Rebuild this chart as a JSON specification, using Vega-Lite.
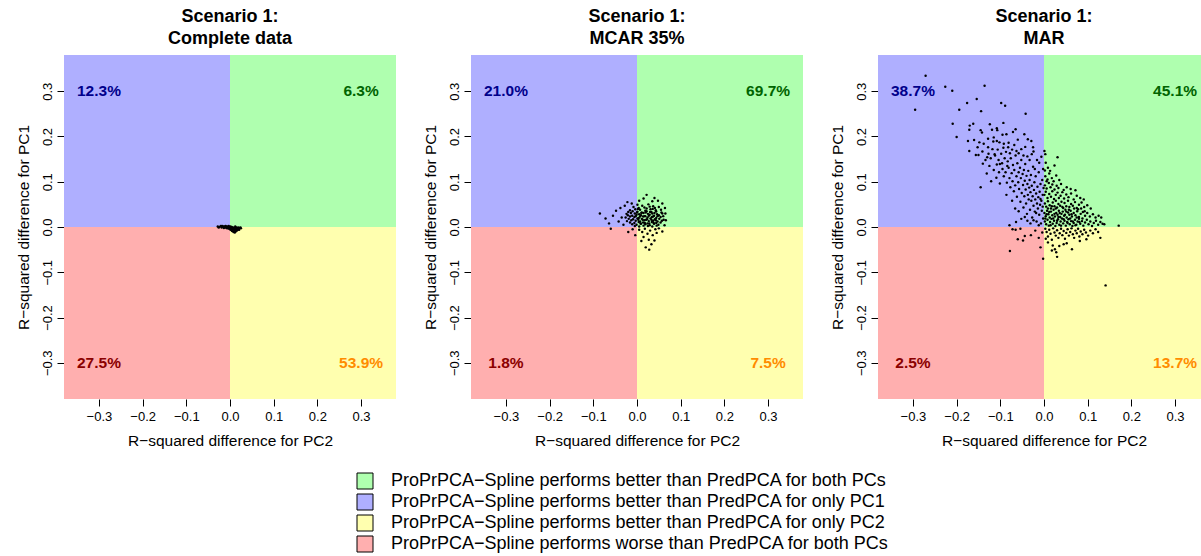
{
  "$schema": "https://vega.github.io/schema/vega-lite/v6.json",
  "background": "white",
  "padding": {"left": 15, "top": 8, "right": 0, "bottom": 0},
  "bounds": "flush",
  "spacing": 75,
  "config": {
    "view": {"stroke": null},
    "font": "Liberation Sans",
    "title": {"fontSize": 18, "fontWeight": "bold", "font": "Liberation Sans", "lineHeight": 22, "offset": 7, "anchor": "middle", "color": "black"},
    "axis": {"domain": false, "grid": false, "tickColor": "black", "tickSize": 7, "labelColor": "black", "titleColor": "black", "labelFont": "Liberation Sans", "titleFont": "Liberation Sans", "labelFontSize": 13, "titleFontSize": 15.5, "titleFontWeight": "normal", "values": [-0.3, -0.2, -0.1, 0, 0.1, 0.2, 0.3], "format": ".1f"},
    "axisX": {"labelPadding": 4, "titlePadding": 10},
    "axisY": {"labelAngle": -90, "labelAlign": "center", "labelBaseline": "bottom", "labelPadding": 3, "titlePadding": 10},
    "legend": {"orient": "none", "legendX": 292, "legendY": 417, "direction": "vertical", "labelFontSize": 18, "labelFont": "Liberation Sans", "labelColor": "black", "labelLimit": 0, "symbolType": "square", "symbolSize": 256, "symbolStrokeColor": "black", "symbolStrokeWidth": 1, "symbolOpacity": 1, "rowPadding": 1, "labelOffset": 17, "padding": 0}
  },
  "datasets": {
    "quads": [
      {"quadrant": "ProPrPCA−Spline performs better than PredPCA for both PCs", "x": 0, "x2": 0.38, "y": 0, "y2": 0.38},
      {"quadrant": "ProPrPCA−Spline performs better than PredPCA for only PC1", "x": -0.38, "x2": 0, "y": 0, "y2": 0.38},
      {"quadrant": "ProPrPCA−Spline performs better than PredPCA for only PC2", "x": 0, "x2": 0.38, "y": -0.38, "y2": 0},
      {"quadrant": "ProPrPCA−Spline performs worse than PredPCA for both PCs", "x": -0.38, "x2": 0, "y": -0.38, "y2": 0}
    ],
    "labels": [
      {"panel": "Complete data", "quadrant": "both", "label": "6.3%", "x": 0.3, "y": 0.3},
      {"panel": "Complete data", "quadrant": "pc1", "label": "12.3%", "x": -0.3, "y": 0.3},
      {"panel": "Complete data", "quadrant": "pc2", "label": "53.9%", "x": 0.3, "y": -0.3},
      {"panel": "Complete data", "quadrant": "worse", "label": "27.5%", "x": -0.3, "y": -0.3},
      {"panel": "MCAR 35%", "quadrant": "both", "label": "69.7%", "x": 0.3, "y": 0.3},
      {"panel": "MCAR 35%", "quadrant": "pc1", "label": "21.0%", "x": -0.3, "y": 0.3},
      {"panel": "MCAR 35%", "quadrant": "pc2", "label": "7.5%", "x": 0.3, "y": -0.3},
      {"panel": "MCAR 35%", "quadrant": "worse", "label": "1.8%", "x": -0.3, "y": -0.3},
      {"panel": "MAR", "quadrant": "both", "label": "45.1%", "x": 0.3, "y": 0.3},
      {"panel": "MAR", "quadrant": "pc1", "label": "38.7%", "x": -0.3, "y": 0.3},
      {"panel": "MAR", "quadrant": "pc2", "label": "13.7%", "x": 0.3, "y": -0.3},
      {"panel": "MAR", "quadrant": "worse", "label": "2.5%", "x": -0.3, "y": -0.3}
    ],
    "complete": [
      {"x":-0.028,"y":0.001},{"x":-0.024,"y":0.0},{"x":-0.021,"y":0.002},{"x":-0.019,"y":-0.001},{"x":-0.016,"y":0.001},{"x":-0.014,"y":-0.002},{"x":-0.012,"y":0.0},{"x":-0.01,"y":0.002},{"x":-0.009,"y":-0.001},{"x":-0.007,"y":0.001},
      {"x":-0.006,"y":-0.003},{"x":-0.005,"y":0.0},{"x":-0.004,"y":-0.002},{"x":-0.003,"y":0.002},{"x":-0.002,"y":-0.001},{"x":-0.001,"y":0.0},{"x":0.0,"y":-0.003},{"x":0.001,"y":0.001},{"x":0.002,"y":-0.002},{"x":0.003,"y":-0.005},
      {"x":0.004,"y":0.0},{"x":0.005,"y":-0.003},{"x":0.006,"y":-0.007},{"x":0.007,"y":-0.001},{"x":0.008,"y":-0.004},{"x":0.009,"y":-0.009},{"x":0.01,"y":-0.002},{"x":0.011,"y":-0.006},{"x":0.012,"y":-0.003},{"x":0.013,"y":-0.01},
      {"x":0.014,"y":-0.005},{"x":0.015,"y":-0.001},{"x":0.016,"y":-0.008},{"x":0.017,"y":-0.003},{"x":0.018,"y":-0.006},{"x":0.019,"y":-0.001},{"x":0.02,"y":-0.004},{"x":0.022,"y":-0.002},{"x":0.024,"y":-0.001},{"x":0.025,"y":-0.003},
      {"x":0.011,"y":-0.012},{"x":0.008,"y":-0.011},{"x":0.005,"y":-0.009},{"x":0.013,"y":-0.007},{"x":0.003,"y":-0.003},{"x":0.001,"y":-0.006},{"x":-0.002,"y":-0.004},{"x":0.006,"y":-0.002},{"x":0.009,"y":-0.005},{"x":0.012,"y":0.001},
      {"x":0.016,"y":-0.004},{"x":-0.008,"y":-0.002},{"x":-0.013,"y":0.001},{"x":0.021,"y":-0.006},{"x":0.004,"y":-0.008},{"x":0.007,"y":-0.005},{"x":0.01,"y":-0.008},{"x":0.014,"y":-0.002},{"x":-0.018,"y":0.002},{"x":-0.026,"y":-0.001}
    ],
    "mcar": [
      {"x":0.001,"y":0.049},{"x":0.012,"y":0.047},{"x":0.026,"y":0.05},{"x":0.037,"y":0.046},
      {"x":-0.008,"y":0.044},{"x":0.004,"y":0.042},{"x":0.017,"y":0.043},{"x":0.029,"y":0.045},{"x":0.041,"y":0.042},{"x":0.05,"y":0.044},
      {"x":-0.016,"y":0.037},{"x":-0.004,"y":0.039},{"x":0.007,"y":0.038},{"x":0.019,"y":0.036},{"x":0.031,"y":0.039},{"x":0.043,"y":0.037},{"x":0.055,"y":0.038},
      {"x":-0.02,"y":0.033},{"x":-0.01,"y":0.035},{"x":0.001,"y":0.034},{"x":0.011,"y":0.032},{"x":0.022,"y":0.035},{"x":0.033,"y":0.033},{"x":0.044,"y":0.034},{"x":0.056,"y":0.032},
      {"x":-0.024,"y":0.029},{"x":-0.014,"y":0.031},{"x":-0.005,"y":0.03},{"x":0.005,"y":0.028},{"x":0.015,"y":0.031},{"x":0.025,"y":0.029},{"x":0.035,"y":0.03},{"x":0.046,"y":0.028},{"x":0.058,"y":0.03},
      {"x":-0.021,"y":0.026},{"x":-0.011,"y":0.025},{"x":-0.001,"y":0.027},{"x":0.009,"y":0.026},{"x":0.019,"y":0.024},{"x":0.029,"y":0.027},{"x":0.039,"y":0.025},{"x":0.05,"y":0.026},{"x":0.06,"y":0.024},
      {"x":-0.026,"y":0.021},{"x":-0.016,"y":0.023},{"x":-0.006,"y":0.022},{"x":0.004,"y":0.02},{"x":0.014,"y":0.023},{"x":0.024,"y":0.021},{"x":0.034,"y":0.022},{"x":0.044,"y":0.02},{"x":0.054,"y":0.022},
      {"x":-0.019,"y":0.018},{"x":-0.009,"y":0.017},{"x":0.001,"y":0.019},{"x":0.011,"y":0.018},{"x":0.021,"y":0.016},{"x":0.031,"y":0.019},{"x":0.041,"y":0.017},{"x":0.051,"y":0.018},{"x":0.061,"y":0.016},
      {"x":-0.023,"y":0.013},{"x":-0.013,"y":0.015},{"x":-0.003,"y":0.014},{"x":0.007,"y":0.012},{"x":0.017,"y":0.015},{"x":0.027,"y":0.013},{"x":0.037,"y":0.014},{"x":0.047,"y":0.012},{"x":0.057,"y":0.014},
      {"x":-0.016,"y":0.01},{"x":-0.006,"y":0.009},{"x":0.004,"y":0.011},{"x":0.014,"y":0.01},{"x":0.024,"y":0.008},{"x":0.034,"y":0.011},{"x":0.044,"y":0.009},{"x":0.054,"y":0.01},
      {"x":-0.011,"y":0.006},{"x":-0.001,"y":0.005},{"x":0.009,"y":0.007},{"x":0.019,"y":0.006},{"x":0.029,"y":0.004},{"x":0.039,"y":0.007},{"x":0.049,"y":0.005},
      {"x":-0.005,"y":0.002},{"x":0.005,"y":0.001},{"x":0.015,"y":0.003},{"x":0.025,"y":0.002},{"x":0.035,"y":0.001},{"x":0.045,"y":0.003},
      {"x":0.002,"y":0.04},{"x":0.022,"y":0.041},{"x":0.036,"y":0.04},{"x":0.0,"y":0.032},{"x":0.01,"y":0.031},{"x":0.02,"y":0.032},{"x":0.03,"y":0.033},{"x":0.04,"y":0.031},
      {"x":-0.003,"y":0.024},{"x":0.007,"y":0.023},{"x":0.017,"y":0.024},{"x":0.027,"y":0.025},{"x":0.037,"y":0.023},{"x":0.047,"y":0.024},{"x":0.003,"y":0.016},{"x":0.013,"y":0.016},
      {"x":0.023,"y":0.017},{"x":0.033,"y":0.016},{"x":0.043,"y":0.015},{"x":0.008,"y":0.008},{"x":0.018,"y":0.009},{"x":0.028,"y":0.008},{"x":0.038,"y":0.009},
      {"x":-0.085,"y":0.03},{"x":-0.072,"y":0.019},{"x":-0.064,"y":0.008},{"x":-0.055,"y":0.025},{"x":-0.048,"y":0.036},{"x":-0.042,"y":0.012},{"x":-0.038,"y":0.042},{"x":-0.035,"y":0.021},
      {"x":-0.031,"y":0.005},{"x":-0.028,"y":0.047},{"x":-0.022,"y":0.055},{"x":-0.012,"y":0.052},{"x":0.005,"y":0.058},{"x":0.015,"y":0.063},{"x":0.022,"y":0.071},{"x":0.04,"y":0.064},
      {"x":0.035,"y":0.057},{"x":0.048,"y":0.058},{"x":0.058,"y":0.052},{"x":0.064,"y":0.042},{"x":0.065,"y":0.03},{"x":0.066,"y":0.015},{"x":0.063,"y":0.004},
      {"x":0.005,"y":-0.006},{"x":0.012,"y":-0.011},{"x":0.018,"y":-0.004},{"x":0.024,"y":-0.015},{"x":0.03,"y":-0.008},{"x":0.036,"y":-0.018},{"x":0.042,"y":-0.005},{"x":0.05,"y":-0.003},
      {"x":0.015,"y":-0.022},{"x":0.027,"y":-0.028},{"x":0.033,"y":-0.038},{"x":0.04,"y":-0.03},{"x":0.02,"y":-0.045},{"x":0.028,"y":-0.05},{"x":0.045,"y":-0.013},{"x":0.058,"y":-0.01},{"x":0.01,"y":-0.031},
      {"x":-0.01,"y":-0.005},{"x":-0.02,"y":-0.011},{"x":-0.06,"y":-0.004},{"x":-0.004,"y":-0.018}
    ],
    "mar": [
      {"x":-0.271,"y":0.334},{"x":-0.226,"y":0.31},{"x":-0.21,"y":0.301},{"x":-0.136,"y":0.312},{"x":-0.295,"y":0.259},{"x":-0.176,"y":0.274},{"x":-0.154,"y":0.283},{"x":-0.194,"y":0.259},
      {"x":-0.144,"y":0.256},{"x":-0.098,"y":0.274},{"x":-0.089,"y":0.268},{"x":-0.209,"y":0.228},{"x":-0.2,"y":0.199},{"x":-0.17,"y":0.224},{"x":-0.162,"y":0.228},{"x":-0.171,"y":0.215},
      {"x":-0.145,"y":0.214},{"x":-0.142,"y":0.209},{"x":-0.124,"y":0.227},{"x":-0.119,"y":0.215},{"x":-0.108,"y":0.218},{"x":-0.107,"y":0.214},{"x":-0.093,"y":0.23},{"x":-0.174,"y":0.19},
      {"x":-0.148,"y":0.187},{"x":-0.138,"y":0.184},{"x":-0.116,"y":0.189},{"x":-0.108,"y":0.19},{"x":-0.102,"y":0.187},{"x":-0.095,"y":0.204},{"x":-0.092,"y":0.184},{"x":-0.081,"y":0.186},
      {"x":-0.171,"y":0.168},{"x":-0.156,"y":0.159},{"x":-0.15,"y":0.159},{"x":-0.141,"y":0.167},{"x":-0.127,"y":0.162},{"x":-0.113,"y":0.161},{"x":-0.13,"y":0.154},{"x":-0.122,"y":0.152},
      {"x":-0.134,"y":0.148},{"x":-0.104,"y":0.148},{"x":-0.101,"y":0.139},{"x":-0.108,"y":0.138},{"x":-0.084,"y":0.135},{"x":-0.042,"y":0.25},{"x":-0.065,"y":0.216},{"x":-0.037,"y":0.194},
      {"x":-0.025,"y":0.176},{"x":-0.024,"y":0.167},
      {"x":-0.095,"y":0.128},{"x":-0.092,"y":0.112},{"x":-0.088,"y":0.121},{"x":-0.085,"y":0.098},{"x":-0.083,"y":0.145},{"x":-0.081,"y":0.131},{"x":-0.079,"y":0.108},{"x":-0.077,"y":0.088},
      {"x":-0.076,"y":0.152},{"x":-0.074,"y":0.119},{"x":-0.072,"y":0.101},{"x":-0.071,"y":0.137},{"x":-0.069,"y":0.079},{"x":-0.068,"y":0.126},{"x":-0.066,"y":0.092},{"x":-0.065,"y":0.158},
      {"x":-0.063,"y":0.112},{"x":-0.062,"y":0.067},{"x":-0.061,"y":0.141},{"x":-0.059,"y":0.099},{"x":-0.058,"y":0.121},{"x":-0.057,"y":0.084},{"x":-0.055,"y":0.131},{"x":-0.054,"y":0.056},
      {"x":-0.053,"y":0.108},{"x":-0.052,"y":0.148},{"x":-0.051,"y":0.075},{"x":-0.049,"y":0.117},{"x":-0.048,"y":0.093},{"x":-0.047,"y":0.043},{"x":-0.046,"y":0.126},{"x":-0.045,"y":0.068},
      {"x":-0.044,"y":0.102},{"x":-0.043,"y":0.139},{"x":-0.042,"y":0.083},{"x":-0.041,"y":0.052},{"x":-0.04,"y":0.113},{"x":-0.039,"y":0.029},{"x":-0.038,"y":0.095},{"x":-0.037,"y":0.071},
      {"x":-0.036,"y":0.124},{"x":-0.035,"y":0.061},{"x":-0.034,"y":0.087},{"x":-0.033,"y":0.104},{"x":-0.032,"y":0.038},{"x":-0.031,"y":0.077},{"x":-0.03,"y":0.115},{"x":-0.029,"y":0.058},
      {"x":-0.028,"y":0.091},{"x":-0.027,"y":0.021},{"x":-0.026,"y":0.068},{"x":-0.025,"y":0.133},{"x":-0.024,"y":0.047},{"x":-0.023,"y":0.082},{"x":-0.022,"y":0.099},{"x":-0.021,"y":0.034},
      {"x":-0.02,"y":0.061},{"x":-0.019,"y":0.112},{"x":-0.018,"y":0.074},{"x":-0.017,"y":0.012},{"x":-0.016,"y":0.052},{"x":-0.015,"y":0.089},{"x":-0.014,"y":0.041},{"x":-0.013,"y":0.066},
      {"x":-0.012,"y":0.121},{"x":-0.011,"y":0.027},{"x":-0.01,"y":0.078},{"x":-0.009,"y":0.049},{"x":-0.008,"y":0.095},{"x":-0.007,"y":0.008},{"x":-0.006,"y":0.058},{"x":-0.005,"y":0.036},
      {"x":-0.004,"y":0.104},{"x":-0.003,"y":0.071},{"x":-0.002,"y":0.019},{"x":-0.001,"y":0.086},{"x":-0.003,"y":0.045},{"x":-0.008,"y":0.062},{"x":-0.012,"y":0.004},{"x":-0.018,"y":0.031},
      {"x":-0.024,"y":0.015},{"x":-0.031,"y":0.008},{"x":-0.038,"y":0.014},{"x":-0.044,"y":0.022},{"x":-0.052,"y":0.018},{"x":-0.058,"y":0.035},{"x":-0.066,"y":0.041},{"x":-0.073,"y":0.058},
      {"x":-0.079,"y":0.004},{"x":-0.086,"y":0.071},{"x":-0.064,"y":0.011},{"x":-0.011,"y":0.142},{"x":-0.006,"y":0.155},{"x":-0.002,"y":0.128},{"x":-0.016,"y":0.148},{"x":-0.021,"y":0.128},
      {"x":-0.131,"y":0.118},{"x":-0.128,"y":0.176},{"x":-0.125,"y":0.135},{"x":-0.121,"y":0.101},{"x":-0.118,"y":0.172},{"x":-0.115,"y":0.126},{"x":-0.112,"y":0.158},{"x":-0.109,"y":0.109},
      {"x":-0.106,"y":0.171},{"x":-0.103,"y":0.121},{"x":-0.101,"y":0.096},{"x":-0.098,"y":0.162},{"x":-0.096,"y":0.141},{"x":-0.093,"y":0.175},{"x":-0.09,"y":0.152},{"x":-0.087,"y":0.166},
      {"x":-0.082,"y":0.176},{"x":-0.078,"y":0.163},{"x":-0.073,"y":0.171},{"x":-0.068,"y":0.181},{"x":-0.063,"y":0.168},{"x":-0.058,"y":0.163},{"x":-0.052,"y":0.172},{"x":-0.047,"y":0.158},
      {"x":-0.043,"y":0.177},{"x":-0.038,"y":0.156},{"x":-0.033,"y":0.148},{"x":-0.028,"y":0.161},{"x":-0.06,"y":0.193},{"x":-0.045,"y":0.205},{"x":-0.029,"y":0.19},{"x":-0.115,"y":0.198},
      {"x":-0.14,"y":0.14},{"x":-0.152,"y":0.176},{"x":-0.16,"y":0.192},{"x":-0.128,"y":0.195},{"x":-0.086,"y":0.205},{"x":-0.071,"y":0.21},{"x":-0.145,"y":0.088},
      {"x":0.001,"y":0.168},{"x":0.003,"y":0.161},{"x":0.031,"y":0.154},
      {"x":0.004,"y":0.142},{"x":0.009,"y":0.131},{"x":0.014,"y":0.124},{"x":0.002,"y":0.125},{"x":0.024,"y":0.136},
      {"x":0.003,"y":0.112},{"x":0.008,"y":0.105},{"x":0.012,"y":0.118},{"x":0.018,"y":0.108},{"x":0.022,"y":0.101},{"x":0.028,"y":0.114},{"x":0.006,"y":0.101},{"x":0.035,"y":0.104},
      {"x":0.002,"y":0.092},{"x":0.006,"y":0.085},{"x":0.011,"y":0.097},{"x":0.015,"y":0.088},{"x":0.019,"y":0.094},{"x":0.024,"y":0.083},{"x":0.029,"y":0.091},{"x":0.033,"y":0.086},
      {"x":0.039,"y":0.095},{"x":0.045,"y":0.082},{"x":0.052,"y":0.088},{"x":0.061,"y":0.084},{"x":0.072,"y":0.081},
      {"x":0.001,"y":0.071},{"x":0.004,"y":0.078},{"x":0.008,"y":0.064},{"x":0.012,"y":0.073},{"x":0.016,"y":0.067},{"x":0.019,"y":0.079},{"x":0.023,"y":0.062},{"x":0.027,"y":0.071},
      {"x":0.031,"y":0.076},{"x":0.034,"y":0.064},{"x":0.038,"y":0.069},{"x":0.042,"y":0.077},{"x":0.046,"y":0.063},{"x":0.051,"y":0.072},{"x":0.056,"y":0.066},{"x":0.062,"y":0.074},
      {"x":0.068,"y":0.061},{"x":0.075,"y":0.069},{"x":0.083,"y":0.064},{"x":0.091,"y":0.061},
      {"x":0.002,"y":0.052},{"x":0.005,"y":0.045},{"x":0.009,"y":0.057},{"x":0.013,"y":0.048},{"x":0.016,"y":0.041},{"x":0.02,"y":0.054},{"x":0.024,"y":0.046},{"x":0.027,"y":0.058},
      {"x":0.03,"y":0.043},{"x":0.033,"y":0.051},{"x":0.037,"y":0.047},{"x":0.04,"y":0.056},{"x":0.044,"y":0.042},{"x":0.047,"y":0.053},{"x":0.051,"y":0.046},{"x":0.055,"y":0.058},
      {"x":0.058,"y":0.044},{"x":0.062,"y":0.051},{"x":0.066,"y":0.047},{"x":0.071,"y":0.055},{"x":0.075,"y":0.042},{"x":0.08,"y":0.049},{"x":0.086,"y":0.054},{"x":0.092,"y":0.044},
      {"x":0.099,"y":0.048},{"x":0.107,"y":0.041},
      {"x":0.001,"y":0.031},{"x":0.004,"y":0.024},{"x":0.007,"y":0.036},{"x":0.01,"y":0.028},{"x":0.013,"y":0.021},{"x":0.016,"y":0.034},{"x":0.019,"y":0.026},{"x":0.022,"y":0.038},
      {"x":0.025,"y":0.023},{"x":0.028,"y":0.031},{"x":0.031,"y":0.027},{"x":0.034,"y":0.036},{"x":0.037,"y":0.022},{"x":0.04,"y":0.029},{"x":0.043,"y":0.034},{"x":0.046,"y":0.025},
      {"x":0.049,"y":0.038},{"x":0.052,"y":0.021},{"x":0.055,"y":0.032},{"x":0.058,"y":0.027},{"x":0.061,"y":0.036},{"x":0.064,"y":0.023},{"x":0.068,"y":0.031},{"x":0.072,"y":0.026},
      {"x":0.076,"y":0.035},{"x":0.08,"y":0.022},{"x":0.084,"y":0.029},{"x":0.089,"y":0.033},{"x":0.094,"y":0.025},{"x":0.099,"y":0.031},{"x":0.105,"y":0.023},{"x":0.112,"y":0.028},
      {"x":0.118,"y":0.021},{"x":0.125,"y":0.025},{"x":0.131,"y":0.021},
      {"x":0.002,"y":0.012},{"x":0.005,"y":0.006},{"x":0.008,"y":0.016},{"x":0.011,"y":0.003},{"x":0.014,"y":0.011},{"x":0.017,"y":0.018},{"x":0.02,"y":0.007},{"x":0.023,"y":0.014},
      {"x":0.026,"y":0.002},{"x":0.029,"y":0.009},{"x":0.032,"y":0.017},{"x":0.035,"y":0.005},{"x":0.038,"y":0.012},{"x":0.041,"y":0.019},{"x":0.044,"y":0.008},{"x":0.047,"y":0.014},
      {"x":0.05,"y":0.003},{"x":0.053,"y":0.011},{"x":0.056,"y":0.017},{"x":0.059,"y":0.006},{"x":0.062,"y":0.013},{"x":0.065,"y":0.002},{"x":0.068,"y":0.009},{"x":0.071,"y":0.016},
      {"x":0.074,"y":0.005},{"x":0.077,"y":0.012},{"x":0.08,"y":0.018},{"x":0.083,"y":0.007},{"x":0.087,"y":0.013},{"x":0.09,"y":0.003},{"x":0.094,"y":0.01},{"x":0.098,"y":0.016},
      {"x":0.102,"y":0.006},{"x":0.106,"y":0.012},{"x":0.11,"y":0.002},{"x":0.114,"y":0.009},{"x":0.119,"y":0.014},{"x":0.124,"y":0.005},{"x":0.129,"y":0.011},{"x":0.134,"y":0.007},
      {"x":0.138,"y":0.006},{"x":0.171,"y":0.003},
      {"x":0.003,"y":0.019},{"x":0.006,"y":0.028},{"x":0.009,"y":0.041},{"x":0.012,"y":0.033},{"x":0.015,"y":0.004},{"x":0.018,"y":0.046},{"x":0.021,"y":0.019},{"x":0.024,"y":0.029},
      {"x":0.027,"y":0.041},{"x":0.03,"y":0.014},{"x":0.033,"y":0.022},{"x":0.036,"y":0.031},{"x":0.039,"y":0.003},{"x":0.042,"y":0.044},{"x":0.045,"y":0.017},{"x":0.048,"y":0.027},
      {"x":0.051,"y":0.034},{"x":0.054,"y":0.009},{"x":0.057,"y":0.038},{"x":0.06,"y":0.019},{"x":0.063,"y":0.028},{"x":0.066,"y":0.012},{"x":0.069,"y":0.041},{"x":0.072,"y":0.004},
      {"x":0.075,"y":0.021},{"x":0.078,"y":0.039},{"x":0.081,"y":0.011},{"x":0.085,"y":0.041},{"x":0.088,"y":0.019},{"x":0.093,"y":0.035},
      {"x":0.003,"y":-0.004},{"x":0.006,"y":-0.011},{"x":0.009,"y":-0.021},{"x":0.012,"y":-0.006},{"x":0.015,"y":-0.015},{"x":0.018,"y":-0.028},{"x":0.021,"y":-0.003},{"x":0.024,"y":-0.012},
      {"x":0.027,"y":-0.019},{"x":0.03,"y":-0.007},{"x":0.033,"y":-0.024},{"x":0.036,"y":-0.014},{"x":0.039,"y":-0.004},{"x":0.042,"y":-0.018},{"x":0.045,"y":-0.009},{"x":0.048,"y":-0.026},
      {"x":0.051,"y":-0.013},{"x":0.054,"y":-0.005},{"x":0.057,"y":-0.019},{"x":0.06,"y":-0.011},{"x":0.063,"y":-0.003},{"x":0.066,"y":-0.016},{"x":0.069,"y":-0.024},{"x":0.072,"y":-0.008},
      {"x":0.075,"y":-0.014},{"x":0.078,"y":-0.004},{"x":0.081,"y":-0.021},{"x":0.084,"y":-0.01},{"x":0.088,"y":-0.016},{"x":0.092,"y":-0.006},{"x":0.096,"y":-0.012},{"x":0.101,"y":-0.019},
      {"x":0.106,"y":-0.008},{"x":0.112,"y":-0.014},{"x":0.118,"y":-0.005},{"x":0.124,"y":-0.011},{"x":0.129,"y":-0.024},{"x":0.02,"y":-0.041},{"x":0.025,"y":-0.049},{"x":0.028,"y":-0.056},
      {"x":0.035,"y":-0.042},{"x":0.018,"y":-0.052},{"x":0.064,"y":-0.049},{"x":0.052,"y":-0.036},{"x":0.045,"y":-0.038},{"x":0.009,"y":-0.034},{"x":0.004,"y":-0.026},{"x":0.03,"y":-0.066},
      {"x":0.141,"y":-0.129},{"x":0.082,"y":-0.031},{"x":0.097,"y":-0.027},
      {"x":-0.078,"y":-0.053},{"x":-0.002,"y":-0.07},{"x":-0.065,"y":-0.006},{"x":-0.054,"y":-0.004},{"x":-0.06,"y":-0.027},{"x":-0.044,"y":-0.02},{"x":-0.03,"y":-0.018},{"x":-0.02,"y":-0.008},
      {"x":-0.012,"y":-0.024},{"x":-0.008,"y":-0.045},{"x":-0.004,"y":-0.012},{"x":-0.048,"y":-0.03},{"x":-0.072,"y":-0.005}
    ]
  },
  "hconcat": [
    {
      "title": {"text": ["Scenario 1:", "Complete data"]},
      "width": 332, "height": 344,
      "encoding": {
        "x": {"field": "x", "type": "quantitative", "scale": {"domain": [-0.38, 0.38], "nice": false, "zero": false}, "title": "R−squared difference for PC2"},
        "y": {"field": "y", "type": "quantitative", "scale": {"domain": [-0.38, 0.38], "nice": false, "zero": false}, "title": "R−squared difference for PC1"}
      },
      "layer": [
        {"data": {"name": "quads"}, "mark": {"type": "rect", "opacity": 1}, "encoding": {"x2": {"field": "x2"}, "y2": {"field": "y2"}, "fill": {"field": "quadrant", "type": "nominal", "title": null, "scale": {"domain": ["ProPrPCA−Spline performs better than PredPCA for both PCs", "ProPrPCA−Spline performs better than PredPCA for only PC1", "ProPrPCA−Spline performs better than PredPCA for only PC2", "ProPrPCA−Spline performs worse than PredPCA for both PCs"], "range": ["#afffaf", "#afafff", "#ffffaf", "#ffafaf"]}}}},
        {"data": {"name": "labels"}, "transform": [{"filter": "datum.panel == 'Complete data'"}], "mark": {"type": "text", "fontWeight": "bold", "fontSize": 15.5, "font": "Liberation Sans"}, "encoding": {"text": {"field": "label"}, "color": {"field": "quadrant", "type": "nominal", "legend": null, "scale": {"domain": ["both", "pc1", "pc2", "worse"], "range": ["#006400", "#00008b", "#ff8c00", "#8b0000"]}}}},
        {"data": {"name": "complete"}, "mark": {"type": "circle", "size": 6, "color": "black", "opacity": 1}}
      ]
    },
    {
      "title": {"text": ["Scenario 1:", "MCAR 35%"]},
      "width": 332, "height": 344,
      "encoding": {
        "x": {"field": "x", "type": "quantitative", "scale": {"domain": [-0.38, 0.38], "nice": false, "zero": false}, "title": "R−squared difference for PC2"},
        "y": {"field": "y", "type": "quantitative", "scale": {"domain": [-0.38, 0.38], "nice": false, "zero": false}, "title": "R−squared difference for PC1"}
      },
      "layer": [
        {"data": {"name": "quads"}, "mark": {"type": "rect", "opacity": 1}, "encoding": {"x2": {"field": "x2"}, "y2": {"field": "y2"}, "fill": {"field": "quadrant", "type": "nominal", "title": null, "scale": {"domain": ["ProPrPCA−Spline performs better than PredPCA for both PCs", "ProPrPCA−Spline performs better than PredPCA for only PC1", "ProPrPCA−Spline performs better than PredPCA for only PC2", "ProPrPCA−Spline performs worse than PredPCA for both PCs"], "range": ["#afffaf", "#afafff", "#ffffaf", "#ffafaf"]}}}},
        {"data": {"name": "labels"}, "transform": [{"filter": "datum.panel == 'MCAR 35%'"}], "mark": {"type": "text", "fontWeight": "bold", "fontSize": 15.5, "font": "Liberation Sans"}, "encoding": {"text": {"field": "label"}, "color": {"field": "quadrant", "type": "nominal", "legend": null, "scale": {"domain": ["both", "pc1", "pc2", "worse"], "range": ["#006400", "#00008b", "#ff8c00", "#8b0000"]}}}},
        {"data": {"name": "mcar"}, "mark": {"type": "circle", "size": 6, "color": "black", "opacity": 1}}
      ]
    },
    {
      "title": {"text": ["Scenario 1:", "MAR"]},
      "width": 332, "height": 344,
      "encoding": {
        "x": {"field": "x", "type": "quantitative", "scale": {"domain": [-0.38, 0.38], "nice": false, "zero": false}, "title": "R−squared difference for PC2"},
        "y": {"field": "y", "type": "quantitative", "scale": {"domain": [-0.38, 0.38], "nice": false, "zero": false}, "title": "R−squared difference for PC1"}
      },
      "layer": [
        {"data": {"name": "quads"}, "mark": {"type": "rect", "opacity": 1}, "encoding": {"x2": {"field": "x2"}, "y2": {"field": "y2"}, "fill": {"field": "quadrant", "type": "nominal", "title": null, "scale": {"domain": ["ProPrPCA−Spline performs better than PredPCA for both PCs", "ProPrPCA−Spline performs better than PredPCA for only PC1", "ProPrPCA−Spline performs better than PredPCA for only PC2", "ProPrPCA−Spline performs worse than PredPCA for both PCs"], "range": ["#afffaf", "#afafff", "#ffffaf", "#ffafaf"]}}}},
        {"data": {"name": "labels"}, "transform": [{"filter": "datum.panel == 'MAR'"}], "mark": {"type": "text", "fontWeight": "bold", "fontSize": 15.5, "font": "Liberation Sans"}, "encoding": {"text": {"field": "label"}, "color": {"field": "quadrant", "type": "nominal", "legend": null, "scale": {"domain": ["both", "pc1", "pc2", "worse"], "range": ["#006400", "#00008b", "#ff8c00", "#8b0000"]}}}},
        {"data": {"name": "mar"}, "mark": {"type": "circle", "size": 6, "color": "black", "opacity": 1}}
      ]
    }
  ]
}
